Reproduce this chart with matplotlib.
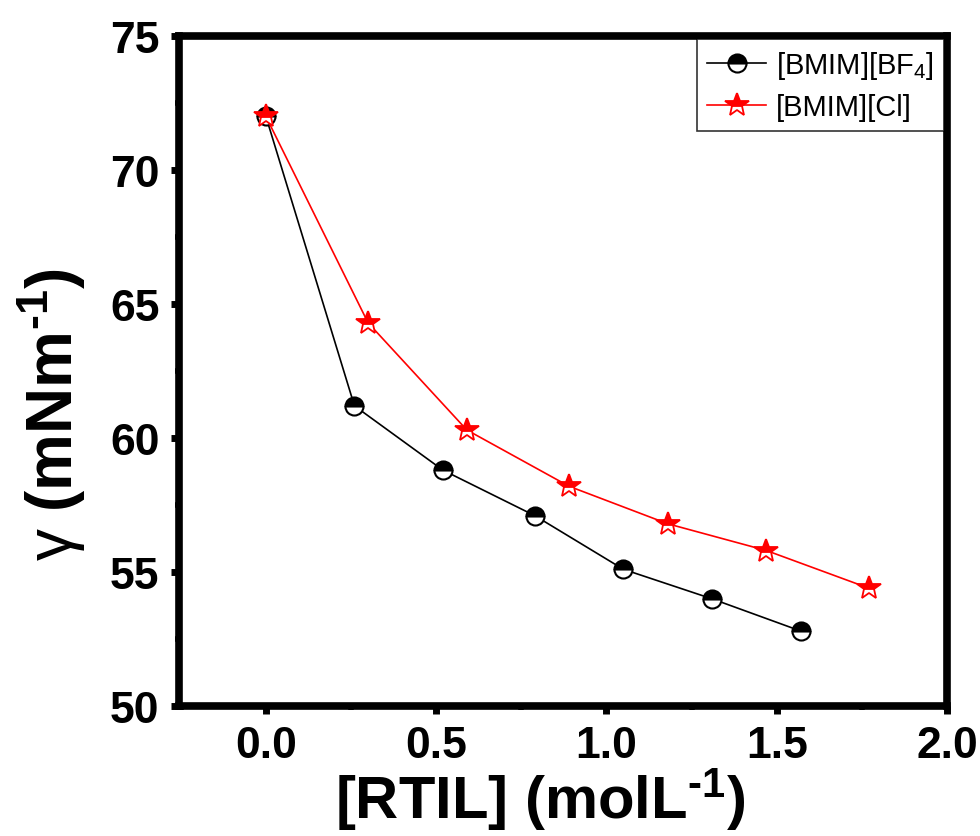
import numpy as np
import matplotlib
matplotlib.use('Agg')
import matplotlib.pyplot as plt
from matplotlib.ticker import MultipleLocator

plt.rcParams['font.family'] = ['Liberation Sans', 'DejaVu Sans']
plt.rcParams['mathtext.fontset'] = 'custom'
# bold roman for \text{}, upright regular for the greek symbol
plt.rcParams['mathtext.rm'] = 'Liberation Sans:bold'
plt.rcParams['mathtext.bf'] = 'Liberation Sans:bold'
plt.rcParams['mathtext.it'] = 'Liberation Sans'

# surface tension vs ionic liquid concentration
conc_bf4 = [0.0, 0.26, 0.52, 0.79, 1.05, 1.31, 1.57]
gamma_bf4 = [72.0, 61.2, 58.8, 57.1, 55.1, 54.0, 52.8]

conc_cl = [0.0, 0.30, 0.59, 0.89, 1.18, 1.47, 1.77]
gamma_cl = [72.0, 64.3, 60.3, 58.2, 56.8, 55.8, 54.4]

fig = plt.figure(figsize=(9.8, 8.37), dpi=100)
ax = fig.add_axes([0.1827, 0.1553, 0.9663 - 0.1827, 0.9558 - 0.1553])

ax.plot(conc_bf4, gamma_bf4, '-', color='black', lw=1.2,
        marker='o', markersize=13, fillstyle='top',
        markerfacecolor='black', markerfacecoloralt='white',
        markeredgecolor='black', markeredgewidth=1.5,
        label=r'[BMIM][BF$_{\mathregular{4}}$]')
ax.plot(conc_cl, gamma_cl, '-', color='red', lw=1.2,
        marker='*', markersize=18, fillstyle='top',
        markerfacecolor='red', markerfacecoloralt='white',
        markeredgecolor='red', markeredgewidth=1.3,
        label='[BMIM][Cl]')

ax.set_xlim(-0.255, 2.0)
ax.set_ylim(50, 75)
ax.xaxis.set_major_locator(MultipleLocator(0.5))
ax.xaxis.set_minor_locator(MultipleLocator(0.25))
ax.yaxis.set_major_locator(MultipleLocator(5))
ax.yaxis.set_minor_locator(MultipleLocator(2.5))
ax.xaxis.set_major_formatter(plt.FormatStrFormatter('%.1f'))

for s in ax.spines.values():
    s.set_linewidth(5.5)
ax.tick_params(which='major', direction='out', length=6, width=5, labelsize=32, pad=8)
ax.tick_params(which='minor', direction='out', length=3, width=4)
for lab in ax.get_xticklabels() + ax.get_yticklabels():
    lab.set_fontweight('bold')

ax.set_xlabel(r'[RTIL] (molL$^{\text{-1}}$)', fontsize=43, fontweight='bold')
ax.xaxis.set_label_coords(0.47, -0.088)
ax.set_ylabel(r'$\gamma$ (mNm$^{\text{-1}}$)', fontsize=46, fontweight='bold')
ax.yaxis.set_label_coords(-0.118, 0.436)

leg = ax.legend(loc='upper right', fontsize=21, frameon=True, fancybox=False,
                edgecolor='black', borderaxespad=0.1, handlelength=2.0,
                handletextpad=0.35, borderpad=0.35, labelspacing=0.4)
leg.get_frame().set_linewidth(1.2)

fig.savefig('out.png', dpi=100)
